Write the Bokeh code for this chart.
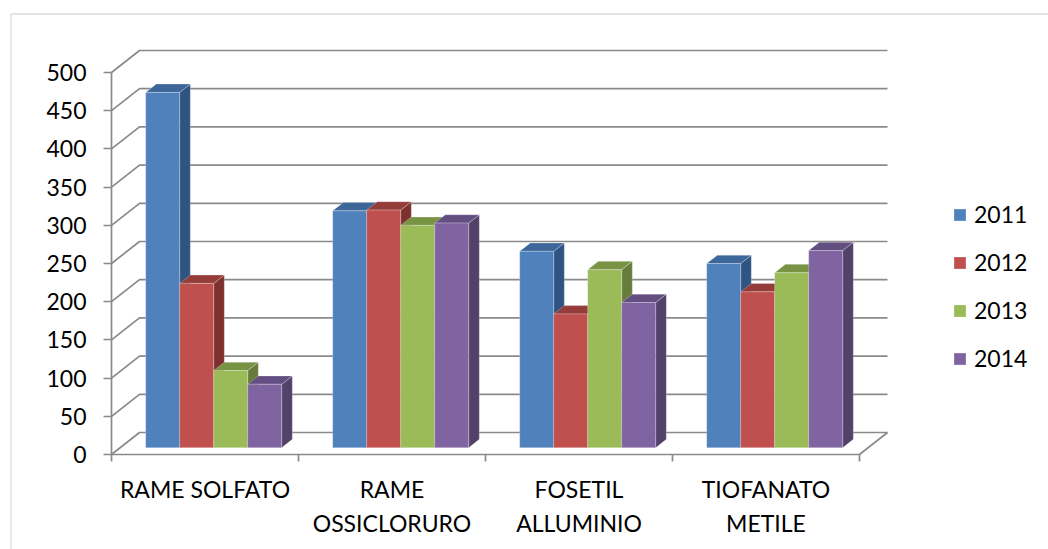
from bokeh.plotting import figure
from bokeh.models import (LinearAxis, FixedTicker, Range1d, Legend, LegendItem,
                          BoxAnnotation)
from bokeh.embed import file_html
from bokeh.resources import INLINE

# ---- data -------------------------------------------------------------
categories = ["RAME SOLFATO", "RAME\nOSSICLORURO", "FOSETIL\nALLUMINIO", "TIOFANATO\nMETILE"]
years = ["2011", "2012", "2013", "2014"]
v2011 = [465, 310, 257, 241]
v2012 = [215, 311, 175, 204]
v2013 = [101, 291, 233, 229]
v2014 = [83, 294, 190, 258]
y_ticks = [0, 50, 100, 150, 200, 250, 300, 350, 400, 450, 500]

series = [v2011, v2012, v2013, v2014]
front_colors = ["#4F81BD", "#C0504D", "#9BBB59", "#8064A2"]
top_colors = ["#3D6798", "#943D3B", "#799345", "#634E82"]
side_colors = ["#305481", "#7E302E", "#677C3B", "#524168"]

# ---- page geometry ----------------------------------------------------
W, H = 1048, 549
AXIS_X_PX = 111        # front value axis column
ZERO_Y_PX = 454        # front floor edge row
PX_PER_CAT = 187.0
PX_PER_UNIT = 0.764

def x_at(px):
    return (px - AXIS_X_PX) / PX_PER_CAT

def y_at(py):
    return (ZERO_Y_PX - py) / PX_PER_UNIT

# oblique depth of the floor / walls, in data units
DEPTH_DX = 28 / PX_PER_CAT
DEPTH_DY = 22 / PX_PER_UNIT
BAR_FRONT, BAR_BACK = 0.31, 0.69      # bar depth as a share of the floor depth
BAR_W = 1 / 5.5                       # four bars plus a gap of 1.5 bars
GAP = 0.75 * BAR_W

N = len(categories)
GRID = "#8a8a8a"
FONT = "Lato"

p = figure(width=W, height=H, output_backend="svg", toolbar_location=None,
           x_range=Range1d(x_at(0), x_at(W)), y_range=Range1d(y_at(H), y_at(0)),
           x_axis_location=None, y_axis_location=None, min_border=0)
p.min_border_left = p.min_border_right = p.min_border_top = p.min_border_bottom = 0
p.grid.visible = False
p.outline_line_color = None
p.background_fill_color = "white"
p.border_fill_color = "white"

# chart area border
p.add_layout(BoxAnnotation(left=x_at(10.5), top=y_at(13.5), right=x_at(W + 20), bottom=y_at(H + 20),
                           fill_alpha=0, line_color="#878787", line_width=1.3))

# side wall + back wall gridlines, and the right edge of the floor
gx = [[0, DEPTH_DX, N + DEPTH_DX] for t in y_ticks]
gy = [[t, t + DEPTH_DY, t + DEPTH_DY] for t in y_ticks]
gx.append([N, N + DEPTH_DX])
gy.append([0, DEPTH_DY])
p.multi_line(gx, gy, line_color=GRID, line_width=1.7)

# ---- 3D bars ----------------------------------------------------------
fdx, fdy = BAR_FRONT * DEPTH_DX, BAR_FRONT * DEPTH_DY
ddx, ddy = (BAR_BACK - BAR_FRONT) * DEPTH_DX, (BAR_BACK - BAR_FRONT) * DEPTH_DY

faces = {"side": [], "top": [], "front": []}
for j, vals in enumerate(series):
    fx, fy, tx, ty, sx, sy = [], [], [], [], [], []
    for i, v in enumerate(vals):
        x0 = i + GAP + j * BAR_W + fdx
        x1 = x0 + BAR_W
        b, t = fdy, v + fdy
        fx.append([x0, x1, x1, x0]); fy.append([b, b, t, t])
        tx.append([x0, x1, x1 + ddx, x0 + ddx]); ty.append([t, t, t + ddy, t + ddy])
        sx.append([x1, x1 + ddx, x1 + ddx, x1]); sy.append([b, b + ddy, t + ddy, t])
    faces["side"].append((sx, sy, side_colors[j]))
    faces["top"].append((tx, ty, top_colors[j]))
    faces["front"].append((fx, fy, front_colors[j]))

fronts = []
for kind in ["side", "top", "front"]:
    for xs, ys, col in faces[kind]:
        r = p.patches(xs, ys, fill_color=col, line_color="white", line_alpha=0.25, line_width=1)
        if kind == "front":
            fronts.append(r)

# ---- axes -------------------------------------------------------------
yax = LinearAxis(fixed_location=0, ticker=FixedTicker(ticks=y_ticks), bounds=(0, max(y_ticks)))
yax.axis_line_color = GRID
yax.axis_line_width = 1.7
yax.major_tick_line_color = GRID
yax.major_tick_line_width = 1.7
yax.major_tick_out = 8
yax.major_tick_in = 0
yax.minor_tick_out = 0
yax.minor_tick_in = 0
yax.major_label_standoff = 17
yax.major_label_text_font = FONT
yax.major_label_text_font_size = "23px"
yax.major_label_text_color = "black"
p.add_layout(yax, "left")

# category boundary ticks along the front floor edge
xax = LinearAxis(fixed_location=0, ticker=FixedTicker(ticks=list(range(N + 1))), bounds=(0, N))
xax.axis_line_color = GRID
xax.axis_line_width = 1.7
xax.major_tick_line_color = GRID
xax.major_tick_line_width = 1.7
xax.major_tick_out = 7
xax.major_tick_in = 0
xax.minor_tick_out = 0
xax.minor_tick_in = 0
xax.major_label_text_alpha = 0
p.add_layout(xax, "below")

# category names centred under each group
centers = [i + 0.5 for i in range(N)]
cax = LinearAxis(fixed_location=0, ticker=FixedTicker(ticks=centers))
cax.major_label_overrides = {c: name for c, name in zip(centers, categories)}
cax.axis_line_alpha = 0
cax.major_tick_out = 0
cax.major_tick_in = 0
cax.minor_tick_out = 0
cax.minor_tick_in = 0
cax.major_label_standoff = 20
cax.major_label_text_font = FONT
cax.major_label_text_font_size = "23px"
cax.major_label_text_color = "black"
cax.major_label_text_line_height = 1.24
p.add_layout(cax, "below")

# ---- legend -----------------------------------------------------------
legend = Legend(items=[LegendItem(label=y, renderers=[r]) for y, r in zip(years, fronts)],
                location=(952, H - 372), orientation="vertical",
                glyph_width=15, glyph_height=15, label_standoff=7,
                label_text_font=FONT, label_text_font_size="23px", label_text_color="black",
                label_height=28, spacing=20, padding=0, margin=0,
                border_line_alpha=0, background_fill_alpha=0)
p.add_layout(legend, "center")

open("out.html", "w").write(file_html(p, INLINE))
